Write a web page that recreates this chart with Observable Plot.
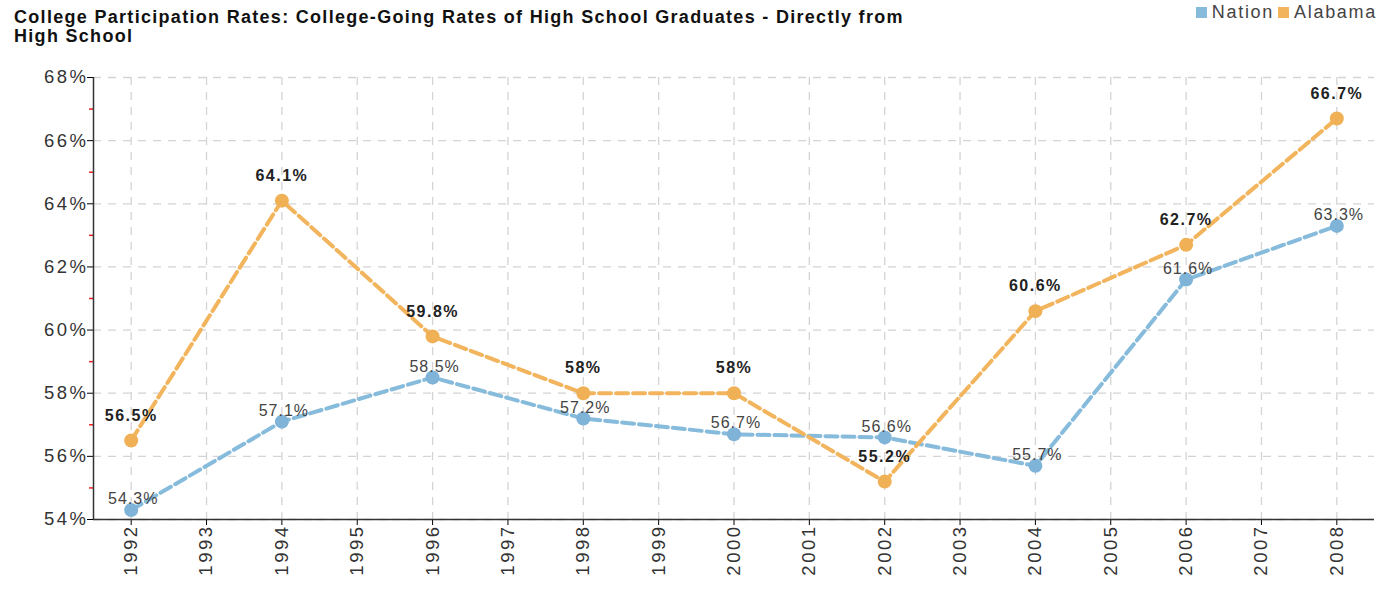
<!DOCTYPE html>
<html>
<head>
<meta charset="utf-8">
<script src="https://cdn.jsdelivr.net/npm/d3@7"></script>
<script src="https://cdn.jsdelivr.net/npm/@observablehq/plot@0.6"></script>
<style>
  html, body { margin: 0; padding: 0; background: #fff; }
  body { width: 1381px; height: 589px; position: relative; overflow: hidden; font-family: "Liberation Sans", Arial, sans-serif; }
  #title { position: absolute; left: 14px; top: 8px; font-weight: bold; font-size: 18px; line-height: 19px; color: #111; letter-spacing: 1.3px; }
  #legend { position: absolute; right: 4px; top: 2px; font-size: 18px; color: #444; display: flex; align-items: center; letter-spacing: 1.7px; }
  #legend .sw { width: 11px; height: 11px; display: inline-block; margin-right: 5px; }
  #legend .it { display: flex; align-items: center; margin-left: 4px; }
  #chart { position: absolute; left: 0; top: 50px; }
  #chart g[aria-label="y-axis tick label"] text, #chart g[aria-label="x-axis tick label"] text { letter-spacing: 2.5px; }
</style>
</head>
<body>
<div id="title">College Participation Rates: College-Going Rates of High School Graduates - Directly from<br>High School</div>
<div id="legend"></div>
<div id="chart"></div>
<script>
const years = [1992, 1994, 1996, 1998, 2000, 2002, 2004, 2006, 2008];
const nation = [54.3, 57.1, 58.5, 57.2, 56.7, 56.6, 55.7, 61.6, 63.3];
const alabama = [56.5, 64.1, 59.8, 58, 58, 55.2, 60.6, 62.7, 66.7];
const xTicks = [1992, 1993, 1994, 1995, 1996, 1997, 1998, 1999, 2000, 2001, 2002, 2003, 2004, 2005, 2006, 2007, 2008];
const yTicks = [54, 56, 58, 60, 62, 64, 66, 68];
const yMinor = [55, 57, 59, 61, 63, 65, 67];
const seriesNames = ["Nation", "Alabama"];
const colors = {Nation: "#86bbdc", Alabama: "#f2b45c"};

const nationData = years.map((y, i) => ({year: y, value: nation[i]}));
const alabamaData = years.map((y, i) => ({year: y, value: alabama[i]}));

const legend = document.getElementById("legend");
seriesNames.forEach(n => {
  const it = document.createElement("span");
  it.className = "it";
  it.innerHTML = `<span class="sw" style="background:${colors[n]}"></span>${n}`;
  legend.appendChild(it);
});

const fmt = v => v + "%";
const dash = "12,5";

const chart = Plot.plot({
  width: 1381,
  height: 539,
  marginLeft: 93,
  marginRight: 7,
  marginTop: 27,
  marginBottom: 70,
  style: {fontFamily: "Liberation Sans, Arial, sans-serif", background: "#fff"},
  x: {domain: [1991.5, 2008.5]},
  y: {domain: [54, 68]},
  marks: [
    Plot.gridX(xTicks, {stroke: "#d4d4d4", strokeOpacity: 1, strokeDasharray: "8,7", strokeWidth: 1.3}),
    Plot.gridY(yTicks, {stroke: "#d4d4d4", strokeOpacity: 1, strokeDasharray: "8,7", strokeWidth: 1.3}),
    Plot.axisY(yMinor, {tickSize: 4, stroke: "#ee2222", tickFormat: () => "", strokeWidth: 1.5, label: null}),
    Plot.axisY(yTicks, {tickSize: 6, tickFormat: fmt, fontSize: 18.5, fill: "#333", label: null, tickPadding: -1}),
    Plot.axisX(xTicks, {tickSize: 6, tickRotate: -90, tickFormat: d => String(d), fontSize: 18.5, fill: "#333", label: null, tickPadding: -1}),
    Plot.ruleX([1991.5], {stroke: "#333", strokeWidth: 1.5}),
    Plot.ruleY([54], {stroke: "#333", strokeWidth: 1.5}),
    Plot.line(nationData, {x: "year", y: "value", stroke: colors.Nation, strokeWidth: 4, strokeDasharray: dash}),
    Plot.line(alabamaData, {x: "year", y: "value", stroke: colors.Alabama, strokeWidth: 4, strokeDasharray: dash}),
    Plot.dot(nationData, {x: "year", y: "value", r: 7, fill: "#7fb4d8", stroke: "none"}),
    Plot.dot(alabamaData, {x: "year", y: "value", r: 7, fill: "#f0b056", stroke: "none"}),
    Plot.text(nationData, {x: "year", y: "value", text: d => fmt(d.value), dy: -11, dx: 2, fontSize: 16, fill: "#444"}),
    Plot.text(alabamaData, {x: "year", y: "value", text: d => fmt(d.value), dy: -25, fontSize: 16, fontWeight: "bold", fill: "#222"})
  ]
});
const textGroups = chart.querySelectorAll('g[aria-label="text"]');
if (textGroups[0]) textGroups[0].style.letterSpacing = "1px";
if (textGroups[1]) textGroups[1].style.letterSpacing = "1.5px";
document.getElementById("chart").appendChild(chart);
</script>
</body>
</html>
